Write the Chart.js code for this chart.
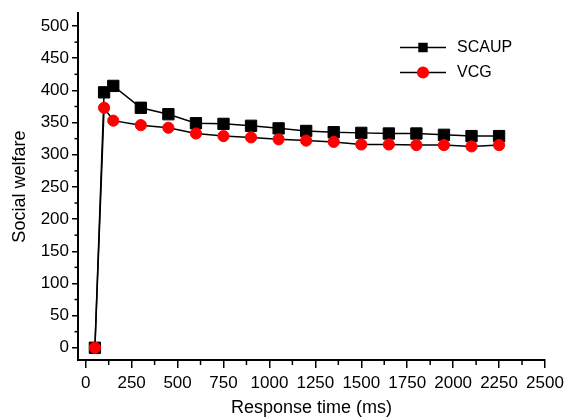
<!DOCTYPE html>
<html>
<head>
<meta charset="utf-8">
<title>Social welfare vs response time</title>
<script src="https://cdn.jsdelivr.net/npm/chart.js@4.4.0/dist/chart.umd.min.js"></script>
<style>
  html, body { margin: 0; padding: 0; background: #fff; }
  #chart { display: block; }
</style>
</head>
<body>
<canvas id="chart" width="569" height="419"></canvas>
<script>
const responseTimes = [50, 100, 150, 300, 450, 600, 750, 900, 1050, 1200, 1350, 1500, 1650, 1800, 1950, 2100, 2250];
const scaupWelfare = [0, 397, 407, 373, 363, 349, 348, 345, 341, 337, 335, 334, 333, 333, 331, 329, 329];
const vcgWelfare = [0, 373, 353, 346, 342, 333, 329, 327, 324, 322, 320, 316, 316, 315, 315, 313, 315];
const seriesNames = ["SCAUP", "VCG"];
const xTickValues = [0, 250, 500, 750, 1000, 1250, 1500, 1750, 2000, 2250, 2500];
const yTickValues = [0, 50, 100, 150, 200, 250, 300, 350, 400, 450, 500];

const FONT = "'Liberation Sans', Arial, sans-serif";

const toPoints = (ys) => responseTimes.map((x, i) => ({ x: x, y: ys[i] }));

// minor ticks halfway between the labelled ones
const minorTicks = {
  id: "minorTicks",
  afterDraw(chart) {
    const { ctx, scales, chartArea } = chart;
    ctx.save();
    ctx.strokeStyle = "#000";
    ctx.lineWidth = 1.5;
    for (let i = 0; i < xTickValues.length - 1; i++) {
      const px = scales.x.getPixelForValue((xTickValues[i] + xTickValues[i + 1]) / 2);
      ctx.beginPath();
      ctx.moveTo(px, chartArea.bottom);
      ctx.lineTo(px, chartArea.bottom + 5);
      ctx.stroke();
    }
    for (let i = 0; i < yTickValues.length - 1; i++) {
      const py = scales.y.getPixelForValue((yTickValues[i] + yTickValues[i + 1]) / 2);
      ctx.beginPath();
      ctx.moveTo(chartArea.left, py);
      ctx.lineTo(chartArea.left - 3.5, py);
      ctx.stroke();
    }
    ctx.restore();
  },
};

// line-marker-line legend like the original
const lineLegend = {
  id: "lineLegend",
  afterDraw(chart) {
    const { ctx } = chart;
    const x0 = 400, x1 = 446, rowY = [47.5, 72.5];
    ctx.save();
    chart.data.datasets.forEach((ds, i) => {
      const y = rowY[i];
      ctx.strokeStyle = "#000";
      ctx.lineWidth = 1.5;
      ctx.beginPath();
      ctx.moveTo(x0, y);
      ctx.lineTo(x1, y);
      ctx.stroke();
      ctx.fillStyle = ds.pointBackgroundColor;
      ctx.strokeStyle = ds.pointBackgroundColor;
      Chart.helpers.drawPoint(ctx, {
        pointStyle: ds.pointStyle,
        radius: ds.pointStyle === "rect" ? 5.6 : 5.3,
        rotation: 0,
        borderWidth: 0.5,
      }, (x0 + x1) / 2, y);
      ctx.fillStyle = "#000";
      ctx.font = "16px " + FONT;
      ctx.textBaseline = "middle";
      ctx.fillText(ds.label, 457, y + 0.5);
    });
    ctx.restore();
  },
};

new Chart(document.getElementById("chart"), {
  type: "line",
  data: {
    datasets: [
      {
        label: seriesNames[0],
        data: toPoints(scaupWelfare),
        borderColor: "#000",
        borderWidth: 1.5,
        pointStyle: "rect",
        pointRadius: 8,
        pointBorderWidth: 1,
        pointBackgroundColor: "#000",
        pointBorderColor: "#000",
        order: 2,
      },
      {
        label: seriesNames[1],
        data: toPoints(vcgWelfare),
        borderColor: "#000",
        borderWidth: 1.5,
        pointStyle: "circle",
        pointRadius: 5.6,
        pointBorderWidth: 1,
        pointBackgroundColor: "#ff0000",
        pointBorderColor: "#ff0000",
        order: 1,
      },
    ],
  },
  options: {
    responsive: false,
    animation: false,
    devicePixelRatio: 1,
    layout: { padding: { top: 12, right: 24, left: 0, bottom: 0 } },
    plugins: {
      legend: { display: false },
      tooltip: { enabled: false },
    },
    scales: {
      x: {
        type: "linear",
        min: -42,
        max: 2500,
        afterBuildTicks: (scale) => {
          scale.ticks = xTickValues.map((v) => ({ value: v }));
        },
        afterFit: (scale) => { scale.height = 59; },
        border: { display: true, color: "#000", width: 2 },
        grid: { drawOnChartArea: false, tickLength: 8, color: "#000", lineWidth: 1.5 },
        ticks: {
          autoSkip: false,
          maxRotation: 0,
          padding: 5,
          color: "#000",
          font: { family: FONT, size: 17 },
          callback: (v) => String(v),
        },
        title: {
          display: true,
          text: "Response time (ms)",
          color: "#000",
          padding: 0,
          font: { family: FONT, size: 18 },
        },
      },
      y: {
        min: -19,
        max: 520,
        afterBuildTicks: (scale) => {
          scale.ticks = yTickValues.map((v) => ({ value: v }));
        },
        afterFit: (scale) => { scale.width = 78; },
        border: { display: true, color: "#000", width: 2 },
        grid: { drawOnChartArea: false, tickLength: 6, color: "#000", lineWidth: 1.5 },
        ticks: {
          autoSkip: false,
          padding: 3,
          color: "#000",
          font: { family: FONT, size: 17 },
          callback: (v) => String(v),
        },
        title: {
          display: true,
          text: "Social welfare",
          color: "#000",
          padding: { top: 9, bottom: 0 },
          font: { family: FONT, size: 18 },
        },
      },
    },
  },
  plugins: [minorTicks, lineLegend],
});
</script>
</body>
</html>
